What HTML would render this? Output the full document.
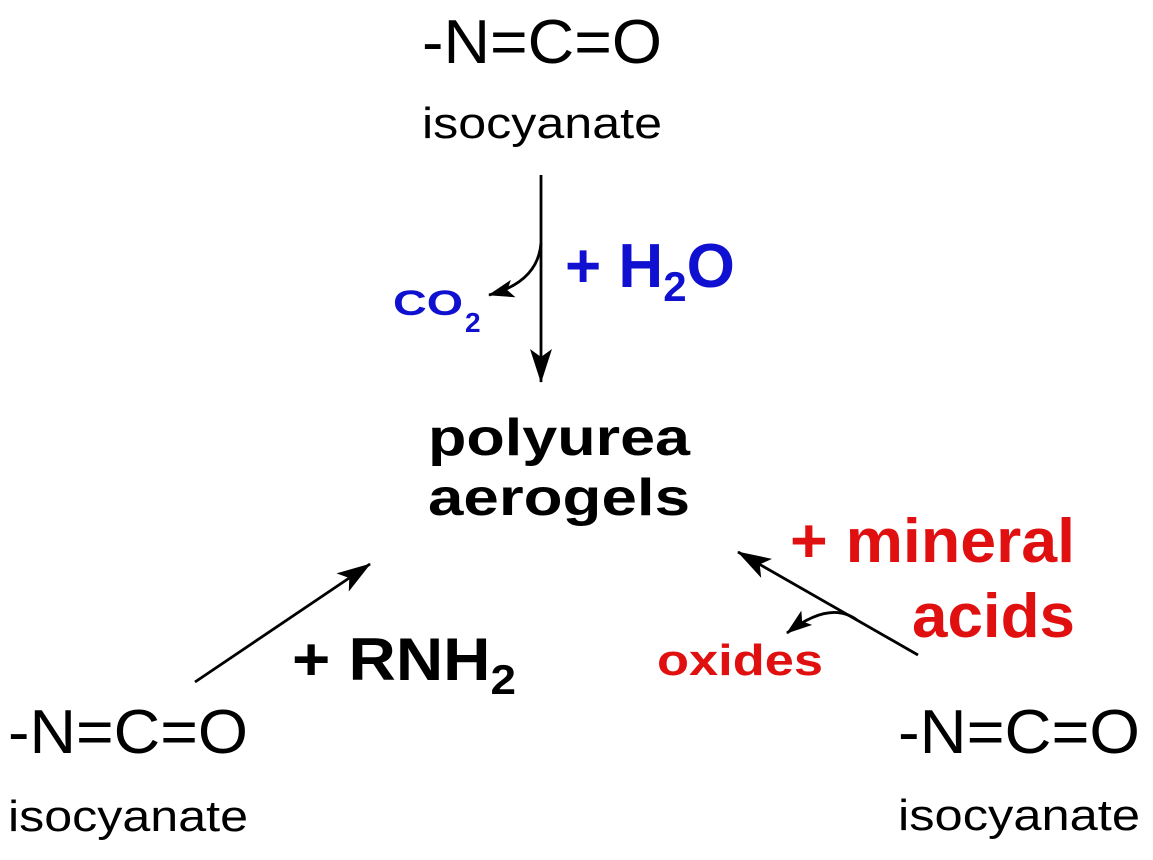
<!DOCTYPE html>
<html><head><meta charset="utf-8"><style>
html,body{margin:0;padding:0;background:#fff;}
svg{display:block;}
text{font-family:"Liberation Sans",Arial,sans-serif;}
</style></head><body>
<svg width="1153" height="860" viewBox="0 0 1153 860" xmlns="http://www.w3.org/2000/svg">
<defs>
<marker id="ah" viewBox="0 0 34 22" refX="33" refY="11" markerWidth="34" markerHeight="22" markerUnits="userSpaceOnUse" orient="auto">
<path d="M0,0 L34,11 L0,22 L8,11 Z" fill="#000"/>
</marker>
<marker id="ah2" viewBox="0 0 26 18" refX="25" refY="9" markerWidth="26" markerHeight="18" markerUnits="userSpaceOnUse" orient="auto">
<path d="M0,0 L26,9 L0,18 L6,9 Z" fill="#000"/>
</marker>
</defs>

<!-- top -->
<text x="422" y="63" font-size="62" textLength="240" lengthAdjust="spacingAndGlyphs">-N=C=O</text>
<text x="422" y="138" font-size="44" textLength="240" lengthAdjust="spacingAndGlyphs">isocyanate</text>

<line x1="541" y1="175" x2="541" y2="382" stroke="#000" stroke-width="2.8" marker-end="url(#ah)"/>
<path d="M541,243 Q538,282 489,295" fill="none" stroke="#000" stroke-width="2.8" marker-end="url(#ah2)"/>

<text x="565" y="287" font-size="62" font-weight="bold" fill="#1010d0">+ H<tspan font-size="42" dy="14">2</tspan><tspan dy="-14">O</tspan></text>
<text x="393" y="315" font-size="35" font-weight="bold" fill="#1010d0" textLength="70" lengthAdjust="spacingAndGlyphs">CO</text>
<text x="465" y="332" font-size="28" font-weight="bold" fill="#1010d0">2</text>

<!-- center -->
<text x="428" y="455" font-size="52" font-weight="bold" textLength="262" lengthAdjust="spacingAndGlyphs">polyurea</text>
<text x="428" y="515" font-size="52" font-weight="bold" textLength="262" lengthAdjust="spacingAndGlyphs">aerogels</text>

<!-- left -->
<line x1="195" y1="682" x2="370" y2="564" stroke="#000" stroke-width="2.8" marker-end="url(#ah)"/>
<text x="292" y="680" font-size="60" font-weight="bold" textLength="224" lengthAdjust="spacingAndGlyphs">+ RNH<tspan font-size="42" dy="14">2</tspan></text>
<text x="8" y="753" font-size="62" textLength="240" lengthAdjust="spacingAndGlyphs">-N=C=O</text>
<text x="8" y="831" font-size="44" textLength="240" lengthAdjust="spacingAndGlyphs">isocyanate</text>

<!-- right -->
<line x1="918" y1="655" x2="738" y2="552" stroke="#000" stroke-width="2.8" marker-end="url(#ah)"/>
<path d="M857,620 Q830,600 787,633" fill="none" stroke="#000" stroke-width="2.8" marker-end="url(#ah2)"/>
<text x="790" y="562" font-size="62" font-weight="bold" fill="#e01010" textLength="285" lengthAdjust="spacingAndGlyphs">+ mineral</text>
<text x="912" y="637" font-size="62" font-weight="bold" fill="#e01010" textLength="163" lengthAdjust="spacingAndGlyphs">acids</text>
<text x="657" y="675" font-size="44" font-weight="bold" fill="#e01010" textLength="166" lengthAdjust="spacingAndGlyphs">oxides</text>
<text x="898" y="753" font-size="62" textLength="242" lengthAdjust="spacingAndGlyphs">-N=C=O</text>
<text x="898" y="830" font-size="44" textLength="242" lengthAdjust="spacingAndGlyphs">isocyanate</text>
</svg>
</body></html>
